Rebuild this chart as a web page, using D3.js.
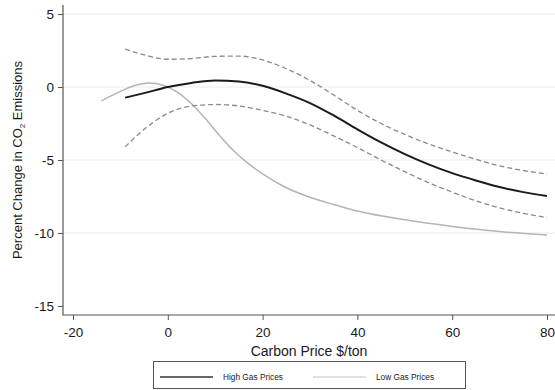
<!DOCTYPE html>
<html>
<head>
<meta charset="utf-8">
<script src="https://cdn.jsdelivr.net/npm/d3@7"></script>
<style>
  body { margin: 0; background: #fff; }
  svg { display: block; font-family: "Liberation Sans", Arial, sans-serif; }
</style>
</head>
<body>
<div class="chart"></div>
<script>
(function() {
	var width = 555,
		height = 390;

	// carbon price grid for the high-gas estimate and its confidence band
	var highX = [-9, -5, 0, 5, 10, 15, 20, 25, 30, 35, 40, 45, 50, 55, 60, 65, 70, 75, 80];
	var highGas = [-0.73, -0.42, 0.0, 0.28, 0.45, 0.38, 0.08, -0.45, -1.1, -1.95, -2.9, -3.8, -4.6, -5.3, -5.9, -6.4, -6.85, -7.2, -7.47];
	var highUpper = [2.6, 2.2, 1.9, 1.95, 2.1, 2.12, 1.85, 1.25, 0.45, -0.55, -1.6, -2.5, -3.25, -3.9, -4.45, -4.95, -5.4, -5.72, -5.96];
	var highLower = [-4.1, -2.9, -1.8, -1.3, -1.2, -1.3, -1.6, -2.0, -2.6, -3.35, -4.15, -5.0, -5.8, -6.55, -7.2, -7.8, -8.28, -8.65, -8.95];

	// low-gas estimate
	var lowX = [-14, -10, -7, -4, -1, 2, 5, 8, 11, 14, 17, 20, 25, 30, 35, 40, 50, 60, 70, 80];
	var lowGas = [-0.95, -0.3, 0.1, 0.28, 0.12, -0.35, -1.15, -2.2, -3.35, -4.4, -5.25, -5.95, -6.9, -7.55, -8.05, -8.5, -9.1, -9.55, -9.9, -10.13];

	var xTicks = [-20, 0, 20, 40, 60, 80];
	var yTicks = [-15, -10, -5, 0, 5];
	var gridTicks = [-10, -5, 0, 5];
	var legendLabels = ["High Gas Prices", "Low Gas Prices"];

	var left = 63, right = 555, top = 5, bottom = 315;

	var x = d3.scaleLinear().domain([-20, 80]).range([73, 547]);
	var y = d3.scaleLinear().domain([-15, 5]).range([306, 14]);

	// plain hyphen for negatives, like the original
	var fmt = function(d) { return String(d); };

	var svg = d3.select(".chart").append("svg")
		.attr("width", width)
		.attr("height", height);

	// light horizontal grid
	svg.append("g").selectAll("line")
		.data(gridTicks)
		.enter().append("line")
		.attr("x1", left + 1).attr("x2", right)
		.attr("y1", function(d) { return y(d); })
		.attr("y2", function(d) { return y(d); })
		.style("stroke", "#ececec")
		.style("stroke-width", 1.2);

	var yAxis = svg.append("g")
		.attr("transform", "translate(" + left + ",0)")
		.call(d3.axisLeft(y).tickValues(yTicks).tickFormat(fmt).tickSize(5).tickPadding(4));

	var xAxis = svg.append("g")
		.attr("transform", "translate(0," + bottom + ")")
		.call(d3.axisBottom(x).tickValues(xTicks).tickFormat(fmt).tickSize(5).tickPadding(7));

	[yAxis, xAxis].forEach(function(a) {
		a.select(".domain").remove();
		a.selectAll(".tick line").style("stroke", "#555");
		a.selectAll(".tick text")
			.style("font-size", "13.5px")
			.style("fill", "#1a1a1a")
			.style("font-family", "'Liberation Sans', Arial, sans-serif");
	});

	// axis lines
	svg.append("line")
		.attr("x1", left).attr("x2", left)
		.attr("y1", top).attr("y2", bottom + 0.5)
		.style("stroke", "#555").style("stroke-width", 1.2);
	svg.append("line")
		.attr("x1", left).attr("x2", right)
		.attr("y1", bottom).attr("y2", bottom)
		.style("stroke", "#555").style("stroke-width", 1.2);

	// axis titles
	svg.append("text")
		.attr("x", (left + right) / 2)
		.attr("y", 355.5)
		.attr("text-anchor", "middle")
		.style("font-size", "14px")
		.style("fill", "#1a1a1a")
		.text("Carbon Price $/ton");

	var yTitle = svg.append("text")
		.attr("transform", "translate(22," + y(-5) + ") rotate(-90)")
		.attr("text-anchor", "middle")
		.style("font-size", "13px")
		.style("fill", "#1a1a1a");
	yTitle.append("tspan").text("Percent Change in CO");
	yTitle.append("tspan").attr("dy", 3).style("font-size", "8px").text("2");
	yTitle.append("tspan").attr("dy", -3).text(" Emissions");

	function series(xs, ys) {
		return xs.map(function(d, i) { return [d, ys[i]]; });
	}

	var line = d3.line()
		.x(function(d) { return x(d[0]); })
		.y(function(d) { return y(d[1]); })
		.curve(d3.curveMonotoneX);

	var plot = svg.append("g").style("fill", "none");

	plot.append("path")
		.attr("d", line(series(lowX, lowGas)))
		.style("stroke", "#b4b4b4")
		.style("stroke-width", 1.5);

	[highUpper, highLower].forEach(function(band) {
		plot.append("path")
			.attr("d", line(series(highX, band)))
			.style("stroke", "#8a8a8a")
			.style("stroke-width", 1.3)
			.style("stroke-dasharray", "5,3");
	});

	plot.append("path")
		.attr("d", line(series(highX, highGas)))
		.style("stroke", "#1a1a1a")
		.style("stroke-width", 2);

	// legend
	var legend = svg.append("g");
	legend.append("rect")
		.attr("x", 153.5).attr("y", 361.5)
		.attr("width", 312).attr("height", 27)
		.style("fill", "#fff")
		.style("stroke", "#555")
		.style("stroke-width", 1);

	var keys = legend.selectAll("g.key")
		.data(legendLabels)
		.enter().append("g")
		.attr("class", "key")
		.attr("transform", function(d, i) { return "translate(" + (160 + i * 153) + ",377)"; });

	keys.append("line")
		.attr("x1", 0).attr("x2", 53)
		.style("stroke", function(d, i) { return i === 0 ? "#333" : "#c4c4c4"; })
		.style("stroke-width", function(d, i) { return i === 0 ? 1.4 : 1.2; });

	keys.append("text")
		.attr("x", 63)
		.attr("y", 3)
		.style("font-size", "8.3px")
		.style("fill", "#1a1a1a")
		.text(function(d) { return d; });
})();
</script>
</body>
</html>
